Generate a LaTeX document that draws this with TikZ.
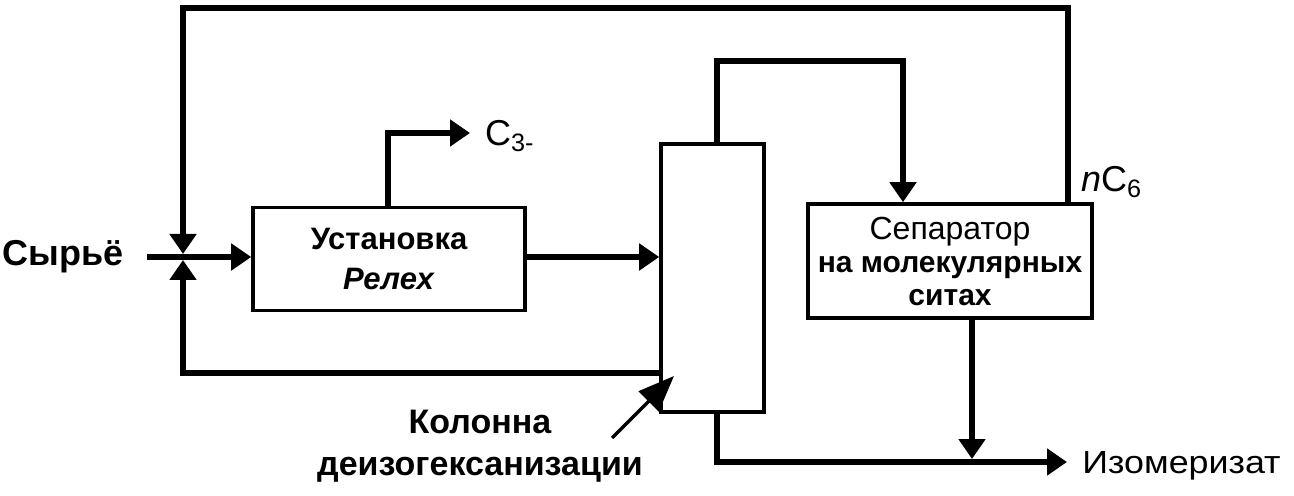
\documentclass[tikz,border=0pt]{standalone}
\usepackage{fontspec}
\setmainfont{Liberation Sans}
\usetikzlibrary{arrows.meta,calc}
\begin{document}
\begin{tikzpicture}[x=0.5pt,y=-0.5pt,
  flow/.style={line width=2.8pt},
  arr/.style={flow,-{Triangle[length=10pt,width=13pt]}},
  box/.style={draw,line width=1.8pt,inner sep=0pt,align=center},
  lbl/.style={font=\fontsize{17}{20}\selectfont\bfseries,align=center},
  plain/.style={font=\fontsize{18}{22}\selectfont}]
\useasboundingbox (0,0) rectangle (1294,496);
\fill[white] (0,0) rectangle (1294,496);

% nodes
\node[box,minimum width=136pt,minimum height=51.5pt,
      font=\fontsize{15.5}{20}\selectfont\bfseries] (b1) at (389,259)
  {Установка\\ \textit{Релех}};
\node[box,minimum width=51.5pt,minimum height=134pt] (col) at (712.5,278) {};
\node[box,minimum width=142pt,minimum height=57pt,
      font=\fontsize{15}{16.5}\selectfont\bfseries] (sep) at (950,261)
  {\mdseries\fontsize{16}{16.5}\selectfont Сепаратор\\ на молекулярных\\ ситах};
\node[lbl,anchor=center,font=\fontsize{18}{20}\selectfont\bfseries] (feed) at (63,257) {Сырьё};
\node[plain,anchor=west] (c3) at (478,136) {C\textsubscript{3-}};
\node[plain,anchor=west] (nc6) at (1074,182) {\textit{n}C\textsubscript{6}};
\node[font=\fontsize{16}{20}\selectfont,anchor=west,inner sep=0pt] (iso) at (1082,466) {\scalebox{1.12}[1]{Изомеризат}};
\node[lbl] (collbl) at (480,446) {Колонна\\[1pt]деизогексанизации};

% coordinates
\coordinate (J) at (183,257);
\coordinate (fs) at (147,257);
\coordinate (tl) at (183,8);
\coordinate (tr) at (1068,8);
\coordinate (bl) at (183,373);
\coordinate (ct) at (717,61);
\coordinate (st) at (903,61);
\coordinate (c3c) at (388,133);
\coordinate (c3e) at (470,133);
\coordinate (cb) at (717,462);
\coordinate (ie) at (1067,462);
\coordinate (sx) at (972,462);
\coordinate (la) at (612,438);
\coordinate (lb) at (674,376);

% connectors
\draw[flow] (fs) -- (J);
\draw[arr] (J) -- (b1.west |- J);
\draw[arr] (sep.north -| tr) -- (tr) -- (tl) -- ($(J)+(0,-3)$);
\draw[arr] (col.west |- bl) -- (bl) -- ($(J)+(0,3)$);
\draw[arr] (b1.north -| c3c) -- (c3c) -- (c3e);
\draw[arr] (b1.east |- J) -- (col.west |- J);
\draw[arr] (col.north -| ct) -- (ct) -- (st) -- (sep.north -| st);
\draw[arr] (col.south -| cb) -- (cb) -- (ie);
\draw[arr] (sep.south -| sx) -- ($(sx)+(0,-3)$);
\draw[line width=1.6pt,-{Triangle[length=18pt,width=14pt]}] (la) -- (lb);
\end{tikzpicture}
\end{document}
